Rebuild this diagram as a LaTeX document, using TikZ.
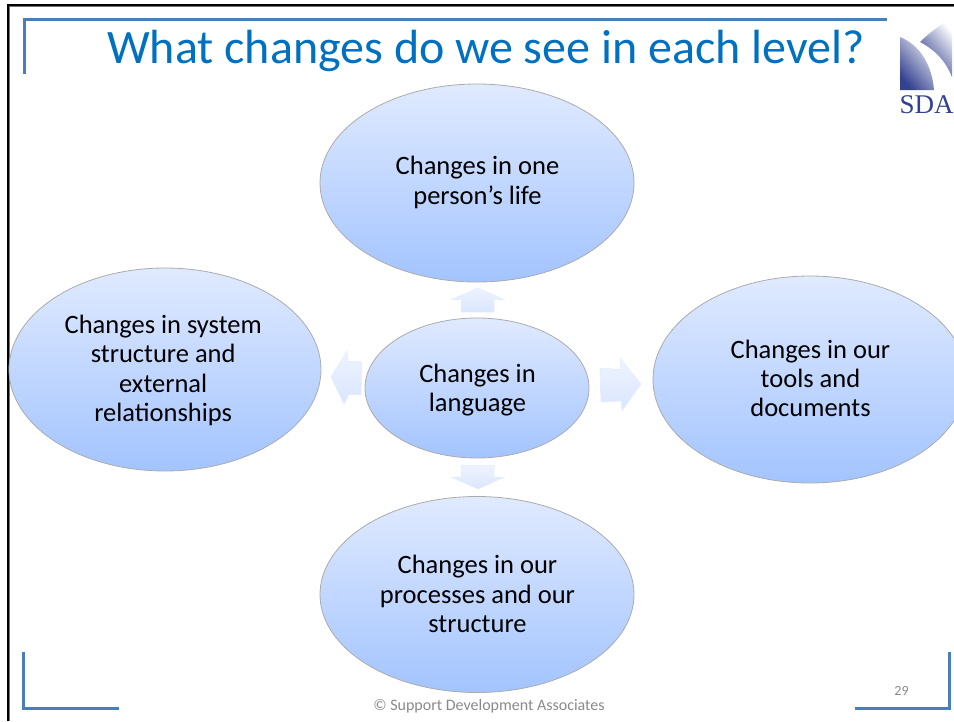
\documentclass[tikz,border=0pt]{standalone}
\usepackage{fontspec}
\setmainfont{Carlito}
\newfontfamily\sdafont{Liberation Serif}
\usetikzlibrary{shapes.geometric}
\definecolor{rule}{HTML}{4A7EBB}
\definecolor{titleblue}{HTML}{0070C0}
\definecolor{foot}{HTML}{898989}
\definecolor{navy}{HTML}{33418F}
\definecolor{bubbletop}{HTML}{E0EAFF}
\definecolor{bubblelow}{HTML}{A3C4FF}
\definecolor{flowtop}{HTML}{EEF3FF}
\definecolor{flowlow}{HTML}{DAE6FE}
\tikzset{
  bubble/.style={ellipse,draw=black!33,line width=0.8pt,inner sep=0pt,
    bottom color=bubblelow,top color=bubbletop},
  bubbletext/.style={inner sep=0pt,align=center,text=black,
    font=\fontsize{26.5}{29.3}\selectfont},
  flow/.style={top color=flowtop,bottom color=flowlow,draw=flowtop!50!flowlow,line width=0.5pt},
  rulerline/.style={draw=rule,line width=3pt},
  frameline/.style={draw=black,line width=2.2pt},
  footer/.style={text=foot,inner sep=0pt,font=\fontsize{16}{18}\selectfont}
}
\begin{document}
\begin{tikzpicture}[x=1pt,y=-1pt]
\useasboundingbox (0,0) rectangle (954,721);
% slide frame
\draw[black!55,line width=1pt] (9.5,721) -- (9.5,6.5) -- (954,6.5);
\draw[frameline] (8,721) -- (8,5) -- (954,5);
% rules
\draw[rulerline] (24.5,74) -- (24.5,19.5) -- (887,19.5);
\draw[rulerline] (23.5,652) -- (23.5,708.5) -- (119,708.5);
\draw[rulerline] (949.5,652) -- (949.5,708.5) -- (855,708.5);
% title
\node[inner sep=0pt,text=titleblue,font=\fontsize{48}{50}\selectfont] (title) at (486,51) {What changes do we see in each level?};
% logo
\shade[left color=navy!12,right color=navy,shading angle=-50]
  (900,37) .. controls (920,45) and (932,65) .. (934,90) -- (900,90) -- cycle;
\shade[left color=white,right color=navy,shading angle=-50]
  (952,17) -- (952,77) .. controls (945,60) and (935,50) .. (920,42) .. controls (930,32) and (942,24) .. (952,17) -- cycle;
\node[inner sep=0pt,text=navy,font=\sdafont\fontsize{27}{28}\selectfont] (sda) at (926.5,105) {SDA};
% bubbles
\node[bubble,minimum width=314pt,minimum height=198pt] (top) at (477,183) {};
\node[bubble,minimum width=312pt,minimum height=203pt] (left) at (165,369.5) {};
\node[bubble,minimum width=314pt,minimum height=207pt] (right) at (810,379.5) {};
\node[bubble,minimum width=314pt,minimum height=196pt] (bottom) at (477,594.5) {};
\node[bubble,minimum width=224pt,minimum height=140pt] (centre) at (477,388) {};
\node[bubbletext,font=\fontsize{26.5}{30}\selectfont] (toptext) at ([shift={(0.5,-1)}]top.center) {Changes in one\\person’s life};
\node[bubbletext] (lefttext) at ([shift={(-1.8,1)}]left.center) {Changes in system\\structure and\\external\\relationships};
\node[bubbletext] (righttext) at ([shift={(0.5,-1)}]right.center) {Changes in our\\tools and\\documents};
\node[bubbletext] (bottomtext) at ([shift={(0.5,-0.6)}]bottom.center) {Changes in our\\processes and our\\structure};
\node[bubbletext] (centretext) at ([shift={(0.5,1.8)}]centre.center) {Changes in\\language};
% arrows
\shade[flow] (478,288) -- (504,299.5) -- (494,299.5) -- (494,312) -- (461,312) -- (461,299.5) -- (451.5,299.5) -- cycle;
\shade[flow] (461,465) -- (494,465) -- (494,477) -- (504.5,477) -- (478,489) -- (451,477) -- (461,477) -- cycle;
\shade[flow] (600,368) -- (620.5,369.5) -- (620,358) -- (641,384) -- (622,411) -- (621.5,401) -- (601,402) -- cycle;
\shade[flow] (331,377) -- (347,351) -- (348,361) -- (362,362) -- (361,395) -- (349,394.5) -- (344,404) -- cycle;
% footer
\node[footer] (copy) at (489,706) {© Support Development Associates};
\node[footer,font=\fontsize{14}{16}\selectfont] (num) at (901.5,691) {29};
\end{tikzpicture}
\end{document}
